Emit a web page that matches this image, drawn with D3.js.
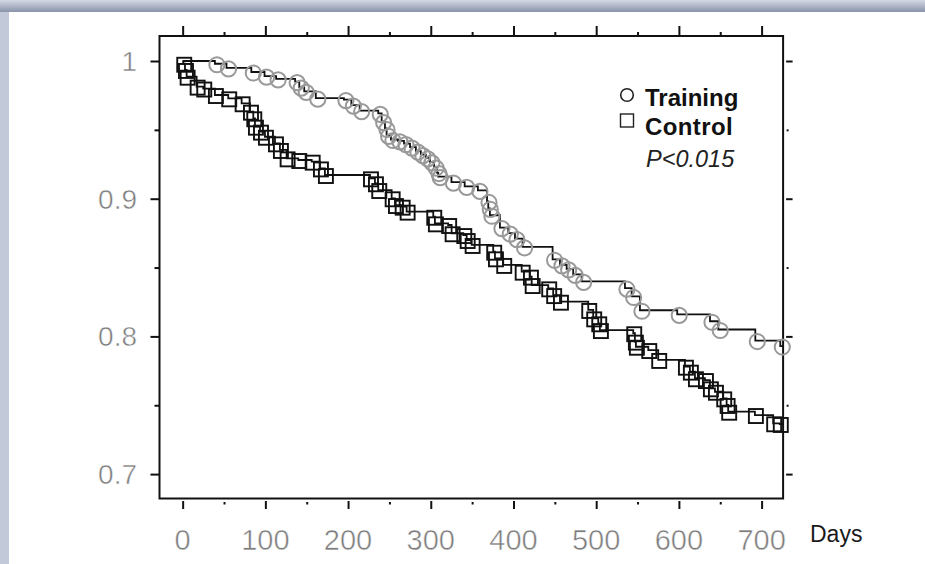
<!DOCTYPE html>
<html><head><meta charset="utf-8">
<script src="https://cdn.jsdelivr.net/npm/d3@7"></script>
<style>body{margin:0;background:#fff}svg{display:block}</style>
</head><body>
<svg id="chart" width="925" height="564"></svg>
<script>
// ---- data ----
const trainingDays = [39,53,83,99,113,136,141,147,161,195,204,214,236.5,240.6,244.6,246.6,251.8,260.3,267.6,274.9,282,288,294,299,304,307.5,309,325,341,357,368,369.5,371.5,383.6,393.7,401.8,411,447.3,456.2,464.3,472.2,482.4,534.8,542.9,552.9,598,637.6,647.6,692.4,722.6];
const trainingSurvival = [0.998,0.995,0.992,0.989,0.987,0.985,0.981,0.978,0.973,0.972,0.968,0.964,0.962,0.956,0.951,0.946,0.943,0.942,0.940,0.9375,0.9346,0.932,0.9296,0.9267,0.923,0.919,0.916,0.912,0.909,0.906,0.898,0.893,0.888,0.879,0.875,0.871,0.865,0.856,0.852,0.849,0.845,0.840,0.835,0.829,0.819,0.816,0.811,0.805,0.797,0.793];
const controlDays = [0.7,2.8,4.8,16.9,24.9,39,55.1,71.3,81.4,85.4,87.4,93.5,99.5,111.6,117.6,125.7,139.8,156,166,172,226.5,232.5,236.5,252.7,256.7,264.8,270.8,303,305,321,325.2,339.3,343.4,349.4,375.5,377.6,387.6,409.9,419.9,422,442,448,456.2,490.4,496.4,502.5,504.5,544.8,546.8,548,563,575,607.3,613.3,619.4,631.5,637.5,643.6,653.6,657.7,659.6,691.9,714,722];
const controlSurvival = [0.998,0.9935,0.9886,0.9814,0.980,0.9753,0.9729,0.9693,0.9632,0.9584,0.9523,0.9487,0.945,0.9402,0.9354,0.9293,0.9281,0.9269,0.922,0.9172,0.9148,0.9112,0.9063,0.9003,0.8954,0.8942,0.8906,0.8869,0.8821,0.8809,0.8749,0.8736,0.870,0.8664,0.8615,0.8567,0.8519,0.847,0.8434,0.8373,0.8349,0.830,0.8252,0.8192,0.8131,0.8095,0.8046,0.8023,0.7962,0.7925,0.7901,0.7829,0.778,0.7744,0.7696,0.7683,0.7623,0.7598,0.755,0.7502,0.7453,0.7429,0.7369,0.7364];
const xTickValues = [0,100,200,300,400,500,600,700];
const xMinorValues = [50,150,250,350,450,550,650];
const yTickValues = [0.7,0.8,0.9,1];
const yMinorValues = [0.75,0.85,0.95];
const yTickLabels = ["0.7","0.8","0.9","1"];
const legendLabels = ["Training","Control"];
const pValueText = "P<0.015";
const xAxisTitle = "Days";

// ---- layout ----
const svg = d3.select("#chart");
const L = 159.5, R = 783.1, T = 36, B = 498.5;
const x = d3.scaleLinear().domain([-28, 726]).range([L, R]);
const y = d3.scaleLinear().domain([0.68228, 1.01816]).range([B, T]);

// background frame
const defs = svg.append("defs");
const g1 = defs.append("linearGradient").attr("id","topband").attr("x1",0).attr("y1",0).attr("x2",0).attr("y2",1);
g1.append("stop").attr("offset","0%").attr("stop-color","#d3d9e5");
g1.append("stop").attr("offset","100%").attr("stop-color","#8993a8");
const g2 = defs.append("linearGradient").attr("id","leftband").attr("x1",0).attr("y1",0).attr("x2",1).attr("y2",0);
g2.append("stop").attr("offset","0%").attr("stop-color","#c2cada");
g2.append("stop").attr("offset","100%").attr("stop-color","#aab4c8");
svg.append("rect").attr("width",925).attr("height",564).attr("fill","url(#leftband)");
svg.append("rect").attr("width",925).attr("height",12).attr("fill","url(#topband)");
svg.append("rect").attr("x",9).attr("y",12).attr("width",916).attr("height",552).attr("fill","#ffffff");

// axes (ticks)
const axisColor = "#111";
function styleAxis(g){ g.select(".domain").remove(); g.selectAll("line").attr("stroke",axisColor).attr("stroke-width",2); g.selectAll("text").remove(); }
svg.append("g").attr("transform",`translate(0,${B+2.5})`).call(d3.axisBottom(x).tickValues(xTickValues).tickSize(8).tickFormat("")).call(styleAxis);
svg.append("g").attr("transform",`translate(0,${B+3.5})`).call(d3.axisBottom(x).tickValues(xMinorValues).tickSize(2.5).tickFormat("")).call(styleAxis);
svg.append("g").attr("transform",`translate(0,${T})`).call(d3.axisTop(x).tickValues(xTickValues).tickSize(10).tickFormat("")).call(styleAxis);
svg.append("g").attr("transform",`translate(0,${T})`).call(d3.axisTop(x).tickValues(xMinorValues).tickSize(4).tickFormat("")).call(styleAxis);
svg.append("g").attr("transform",`translate(${L},0)`).call(d3.axisLeft(y).tickValues(yTickValues).tickSize(9).tickFormat("")).call(styleAxis);
svg.append("g").attr("transform",`translate(${L},0)`).call(d3.axisLeft(y).tickValues(yMinorValues).tickSize(5).tickFormat("")).call(styleAxis);
svg.append("g").attr("transform",`translate(${R+3},0)`).call(d3.axisRight(y).tickValues(yTickValues).tickSize(6.5).tickFormat("")).call(styleAxis);
svg.append("g").attr("transform",`translate(${R+3.5},0)`).call(d3.axisRight(y).tickValues(yMinorValues).tickSize(2).tickFormat("")).call(styleAxis);

// frame box
svg.append("rect").attr("x",L).attr("y",T).attr("width",R-L).attr("height",B-T)
  .attr("fill","none").attr("stroke",axisColor).attr("stroke-width",2);

// tick labels
const labelFont = "'Liberation Sans', Arial, sans-serif";
svg.append("g").selectAll("text").data(xTickValues).join("text")
  .attr("x",d=>x(d)).attr("y",550).attr("text-anchor","middle")
  .attr("font-family",labelFont).attr("font-size",29).attr("fill","#7d7d7d")
  .attr("stroke","#fff").attr("stroke-width",0.5)
  .text(d=>d);
svg.append("g").selectAll("text").data(yTickValues).join("text")
  .attr("x",137).attr("y",d=>y(d)).attr("dy","0.36em").attr("text-anchor","end")
  .attr("font-family",labelFont).attr("font-size",28).attr("fill","#7d7d7d")
  .attr("stroke","#fff").attr("stroke-width",0.5)
  .text((d,i)=>yTickLabels[i]);
svg.append("text").attr("x",810).attr("y",541.5).attr("font-family",labelFont)
  .attr("font-size",23).attr("fill","#1a1a1a").text(xAxisTitle);

// step lines
function stepPath(days, surv){
  let p = `M${x(0)},${y(1)}`;
  days.forEach((d,i)=>{ p += `H${x(d)}V${y(surv[i])}`; });
  p += `H${R}`;
  return p;
}
const plot = svg.append("g");
plot.append("path").attr("d",stepPath(controlDays,controlSurvival)).attr("fill","none").attr("stroke","#111").attr("stroke-width",1.8);
plot.append("path").attr("d",stepPath(trainingDays,trainingSurvival)).attr("fill","none").attr("stroke","#111").attr("stroke-width",1.8);

// markers
const sq = 14;
plot.append("g").selectAll("rect").data(controlDays).join("rect")
  .attr("x",(d)=>x(d)+1-sq/2).attr("y",(d,i)=>y(controlSurvival[i])+1-sq/2)
  .attr("width",sq).attr("height",sq).attr("fill","none").attr("stroke","#111").attr("stroke-width",1.9);
plot.append("g").selectAll("circle").data(trainingDays).join("circle")
  .attr("cx",d=>x(d)+2).attr("cy",(d,i)=>y(trainingSurvival[i])+1)
  .attr("r",7.6).attr("fill","none").attr("stroke","#999").attr("stroke-width",2);

// legend
const lg = svg.append("g");
lg.append("circle").attr("cx",627).attr("cy",95).attr("r",6.3).attr("fill","none").attr("stroke","#222").attr("stroke-width",1.6);
lg.append("rect").attr("x",620.5).attr("y",114).attr("width",13).attr("height",13).attr("fill","none").attr("stroke","#222").attr("stroke-width",1.4);
lg.selectAll("text.lab").data(legendLabels).join("text").attr("class","lab")
  .attr("x",645).attr("y",(d,i)=>106+i*29).attr("font-family",labelFont).attr("font-weight","bold")
  .attr("font-size",24).attr("fill","#111").attr("letter-spacing",(d,i)=>i?0.4:0).text(d=>d);
lg.append("text").attr("x",646).attr("y",166.5).attr("font-family",labelFont).attr("font-style","italic")
  .attr("font-size",23.5).attr("fill","#222").text(pValueText);
</script>
</body></html>
